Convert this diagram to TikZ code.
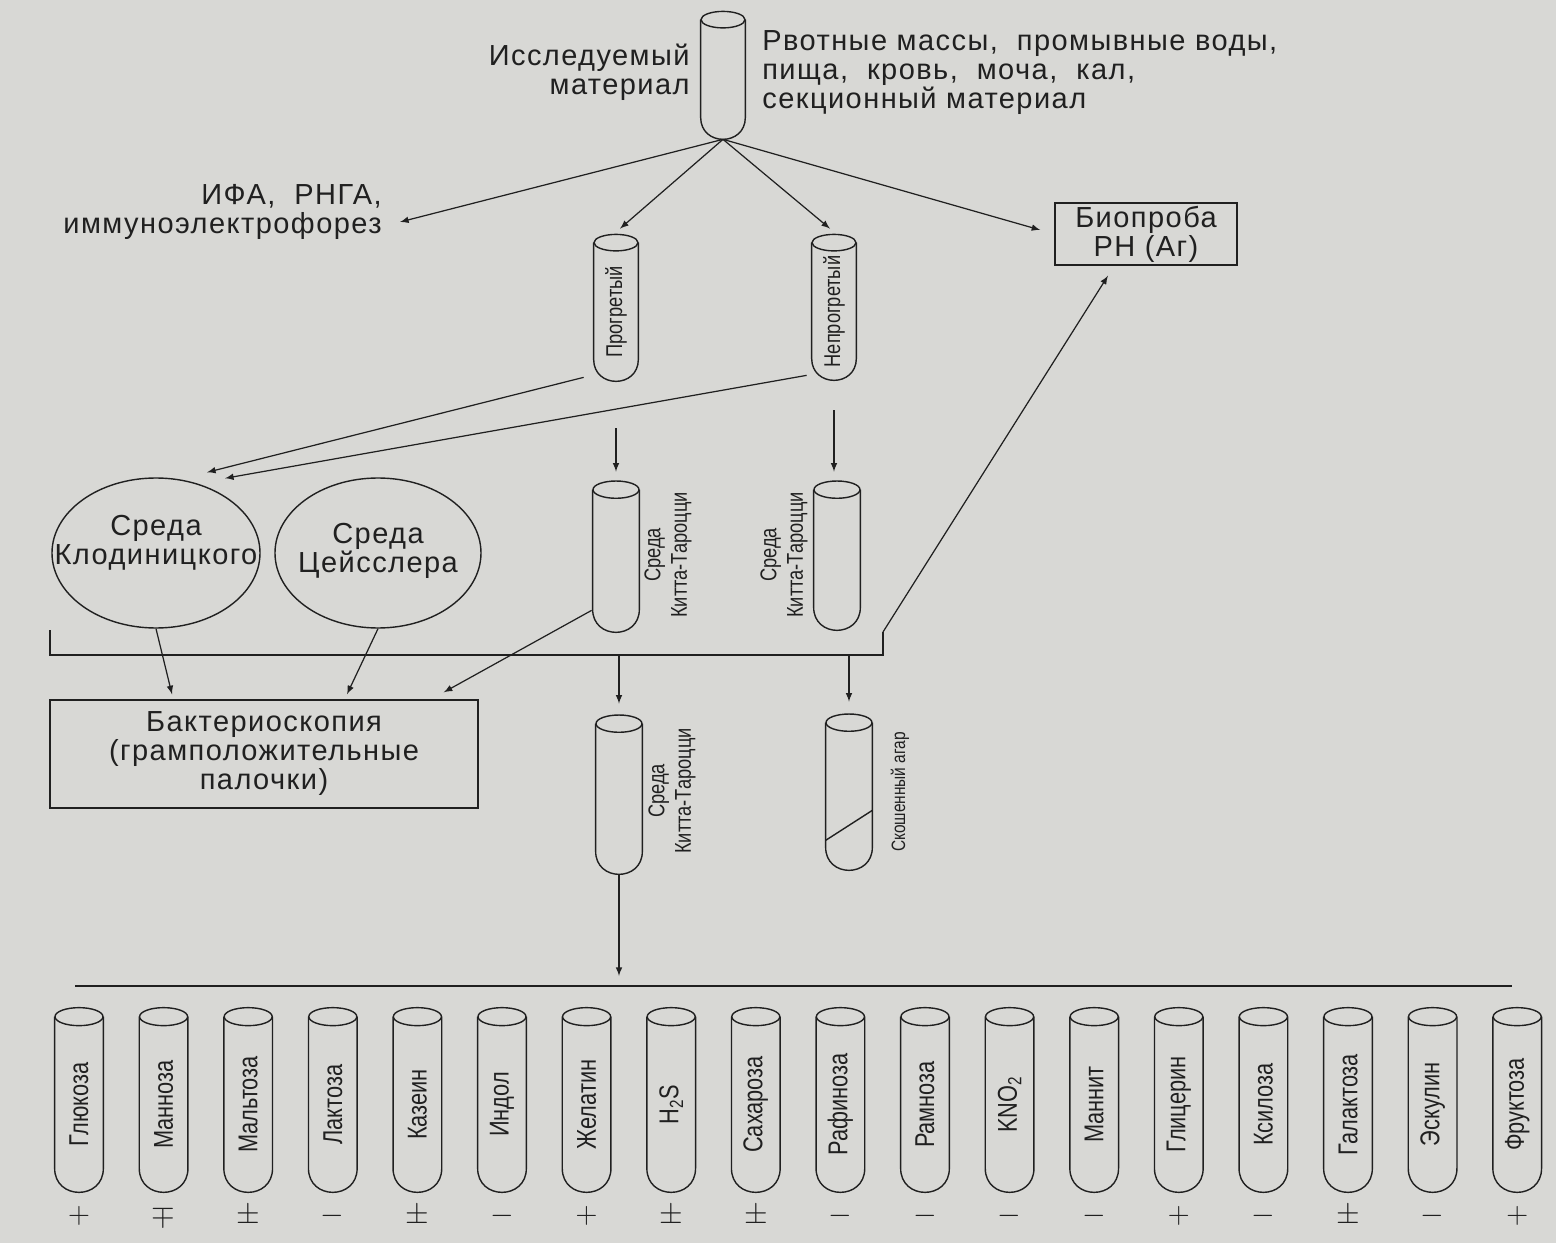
\documentclass[tikz,border=0pt]{standalone}
\usepackage{fontspec}
\setmainfont{Liberation Sans}[LetterSpace=5]
\newfontfamily\narrowfont{Liberation Sans}[FakeStretch=0.8]
\usetikzlibrary{arrows,calc,shapes}
\definecolor{paper}{RGB}{216,216,213}
\definecolor{ink}{RGB}{32,32,32}
\tikzset{
  tubebody/.style={inner sep=0pt, text=ink, font=\narrowfont\fontsize{13}{15}\selectfont},
  tubeline/.style={draw=ink, line width=0.8pt},
  txt/.style={inner sep=0pt, text=ink, font=\fontsize{16.5}{16.5}\selectfont},
  side/.style={inner sep=0pt, text=ink, rotate=90, align=center, font=\narrowfont\fontsize{13}{15}\selectfont},
  link/.style={draw=ink, line width=0.7pt, -latex},
  sign/.style={inner sep=0pt, text=ink, font=\fontsize{17}{17}\selectfont}
}
% test tube: name, x, top, bottom, radius, text
\newcommand{\probirka}[6]{%
  \node[tubebody, minimum width=#5*0.04cm, minimum height={(#4-#3)*0.02cm}] (#1) at (#2,{(#3+#4)/2}) {\rotatebox{90}{#6}};
  \draw[tubeline] (#1.north west) -- ([yshift=#5*0.02cm]#1.south west) .. controls ([yshift=-#5*0.02cm/3]#1.south west) and ([yshift=-#5*0.02cm/3]#1.south east) .. ([yshift=#5*0.02cm]#1.south east) -- (#1.north east);
  \draw[tubeline] (#1.north) ellipse [x radius=#5*0.02cm, y radius=#5*0.0075cm];
}

\begin{document}
\begin{tikzpicture}[x=0.02cm,y=-0.02cm]
%paper
\fill[paper] (0,0) rectangle (1556,1243);
%material
\probirka{mat}{723}{20}{139}{22}{}
\node[txt,align=right,anchor=east] (matL) at (690,72) {Исследуемый\\материал};
\node[txt,align=left,anchor=west] (matR) at (762,73) {Рвотные массы,\ \ промывные воды,\\пища,\ \ кровь,\ \ моча,\ \ кал,\\секционный материал};
\node[txt,align=right,anchor=east] (ifa) at (382,212) {ИФА,\ \ РНГА,\\иммуноэлектрофорез};
\node[txt,align=center,draw=ink,line width=0.8pt,minimum width=182*0.02cm,minimum height=62*0.02cm] (bio) at (1146,234) {Биопроба\\РН (Аг)};
%heated / not heated
\probirka{prog}{616}{243}{381}{22}{Прогретый}
\probirka{neprog}{834}{243}{380}{22}{Непрогретый}
\draw[link] (mat.south) -- ($(ifa.east)+(18,10)$);
\draw[link] (mat.south) -- ($(prog.north)+(4,-14)$);
\draw[link] (mat.south) -- ($(neprog.north)+(-4,-14)$);
\draw[link] (mat.south) -- ($(bio.west)+(-14,-4)$);
%media
\node[draw=ink,line width=0.8pt,ellipse,minimum width=208*0.02cm,minimum height=150*0.02cm] (klod) at (156,553) {};
\node[txt,align=center] (klodT) at (156,543) {Среда\\Клодиницкого};
\node[draw=ink,line width=0.8pt,ellipse,minimum width=206*0.02cm,minimum height=150*0.02cm] (zeis) at (378,553) {};
\node[txt,align=center] (zeisT) at (378,551) {Среда\\Цейсслера};
\draw[link] ($(prog.south west)+(-10,-4)$) -- ($(klod.north)+(51,-5)$);
\draw[link] ($(neprog.south west)+(-5,-5)$) -- ($(klod.north)+(69,1)$);
\probirka{kt1}{616}{490}{632}{23}{}
\probirka{kt2}{837}{490}{630}{23}{}
\node[side] (kt1T) at (668,555) {Среда\\Китта-Тароцци};
\node[side] (kt2T) at (784,555) {Среда\\Китта-Тароцци};
\draw[link] ($(prog.south)+(0,47)$) -- ($(prog.south |- kt1.north)+(0,-18)$);
\draw[link] ($(neprog.south)+(0,30)$) -- ($(neprog.south |- kt2.north)+(0,-18)$);
%bracket
\coordinate (brL) at (50,630);
\coordinate (brLb) at (50,655);
\coordinate (brRb) at (883,655);
\coordinate (brR) at (883,632);
\draw[tubeline] (brL) -- (brLb) -- (brRb) -- (brR);
\draw[link] (brR) -- ($(bio.south)+(-38,10)$);
%bacterioscopy
\node[txt,align=center,draw=ink,line width=0.8pt,minimum width=428*0.02cm,minimum height=108*0.02cm] (bakt) at (264,754) {Бактериоскопия\\(грамположительные\\палочки)};
\draw[link] (klod.south) -- ($(bakt.north)+(-92,-5)$);
\draw[link] (zeis.south) -- ($(bakt.north)+(83,-5)$);
\draw[link] ($(kt1.south west)+(-1,-22)$) -- ($(bakt.north east)+(-35,-7)$);
%subculture
\probirka{kt3}{619}{724}{874}{23}{}
\probirka{agar}{849}{723}{870}{23}{}
\node[side] (kt3T) at (672,791) {Среда\\Китта-Тароцци};
\node[side,font=\narrowfont\fontsize{11}{13}\selectfont] (agarT) at (900,792) {Скошенный агар};
\draw[tubeline] ($(agar.south west)+(0,-30)$) -- ($(agar.south east)+(0,-60)$);
\draw[link] (brRb -| kt3) -- ($(kt3.north)+(0,-20)$);
\draw[link] (brRb -| agar) -- ($(agar.north)+(0,-21)$);
%baseline
\coordinate (baseL) at (75,986);
\coordinate (baseR) at (1512,986);
\draw[tubeline] (baseL) -- (baseR);
\draw[link] (kt3.south) -- ($(kt3.south |- baseL)+(0,-10)$);
%tests
\foreach \lab/\sgn [count=\i] in {Глюкоза/+, Манноза/\mp, Мальтоза/\pm, Лактоза/-, Казеин/\pm, Индол/-, Желатин/+, H\textsubscript{2}S/\pm, Сахароза/\pm, Рафиноза/-, Рамноза/-, KNO\textsubscript{2}/-, Маннит/-, Глицерин/+, Ксилоза/-, Галактоза/\pm, Эскулин/-, Фруктоза/+}
{
  \pgfmathsetmacro{\bx}{79+(\i-1)*84.6}
  \probirka{b\i}{\bx}{1017}{1192}{24}{\fontsize{15.5}{17}\selectfont\lab}
  \node[sign] (s\i) at ($(b\i.south)+(0,24)$) {$\sgn$};
}
\end{tikzpicture}
\end{document}
